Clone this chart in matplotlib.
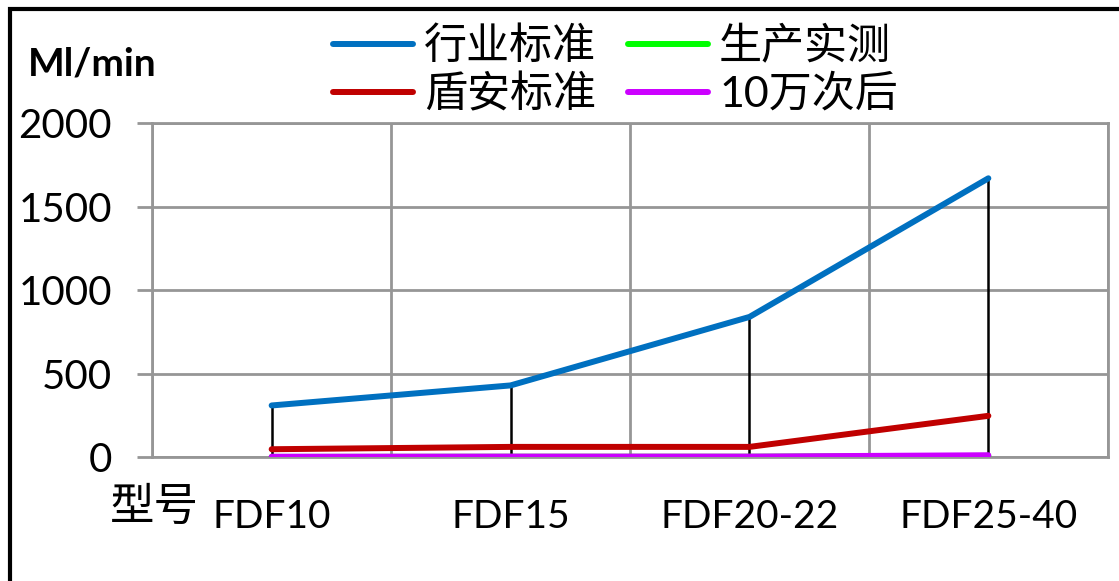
import matplotlib.pyplot as plt
import numpy as np
from matplotlib.lines import Line2D

plt.rcParams['font.family'] = ['Lato', 'Noto Sans CJK SC', 'DejaVu Sans']

models = ['FDF10', 'FDF15', 'FDF20-22', 'FDF25-40']
industry = [310, 430, 840, 1670]   # 行业标准
dunan = [48, 62, 62, 248]          # 盾安标准
measured = [2, 3, 3, 8]            # 生产实测
after_100k = [3, 4, 4, 12]         # 10万次后

x = np.arange(len(models))

fig = plt.figure(figsize=(11.19, 5.81), dpi=100)
ax = fig.add_axes([0.136, 0.213, 0.854, 0.575])

# drop lines from the top series
ax.vlines(x, 0, industry, color='black', lw=1.8, zorder=2)

lw = 4.3
ax.plot(x, industry, color='#0070C0', lw=lw, solid_capstyle='round', label='行业标准', zorder=3)
ax.plot(x, dunan, color='#C00000', lw=lw, solid_capstyle='round', label='盾安标准', zorder=3)
ax.plot(x, measured, color='#00FF00', lw=lw, solid_capstyle='round', label='生产实测', zorder=3)
ax.plot(x, after_100k, color='#CC00FF', lw=lw, solid_capstyle='round', label='10万次后', zorder=3)

ax.set_xlim(-0.5, 3.5)
ax.set_ylim(0, 2000)
ax.set_yticks([0, 500, 1000, 1500, 2000])
ax.set_xticks(x)
ax.set_xticklabels(models)
ax.set_xticks(np.arange(-0.5, 4, 1), minor=True)

ax.grid(True, which='minor', axis='x', color='#969696', lw=2)
ax.grid(True, which='major', axis='y', color='#969696', lw=2)
ax.set_axisbelow(True)
for s in ax.spines.values():
    s.set_color('#969696')
    s.set_linewidth(2)

ax.tick_params(axis='y', which='major', length=11, width=2, color='#969696', pad=18, labelsize=29)
ax.tick_params(axis='x', which='both', length=0, pad=30, labelsize=28)

fig.text(0.025, 0.89, 'Ml/min', fontsize=28, fontweight='bold', ha='left', va='center')
fig.text(0.098, 0.127, '型号', fontsize=32, ha='left', va='center')

fig.legend(ncol=2, loc='upper left', bbox_to_anchor=(333 / 1119, 1 - 26 / 581),
           bbox_transform=fig.transFigure, frameon=False, borderpad=0, borderaxespad=0,
           fontsize=31, handlelength=1.86, columnspacing=0.75, labelspacing=0.18,
           handletextpad=0.25)

# outer chart frame (top and left edges visible)
fig.add_artist(Line2D([0.009, 0.009, 1.0], [0.0, 0.984, 0.984], transform=fig.transFigure,
                      color='black', lw=3, solid_joinstyle='miter'))

fig.savefig('out.png', dpi=100)
